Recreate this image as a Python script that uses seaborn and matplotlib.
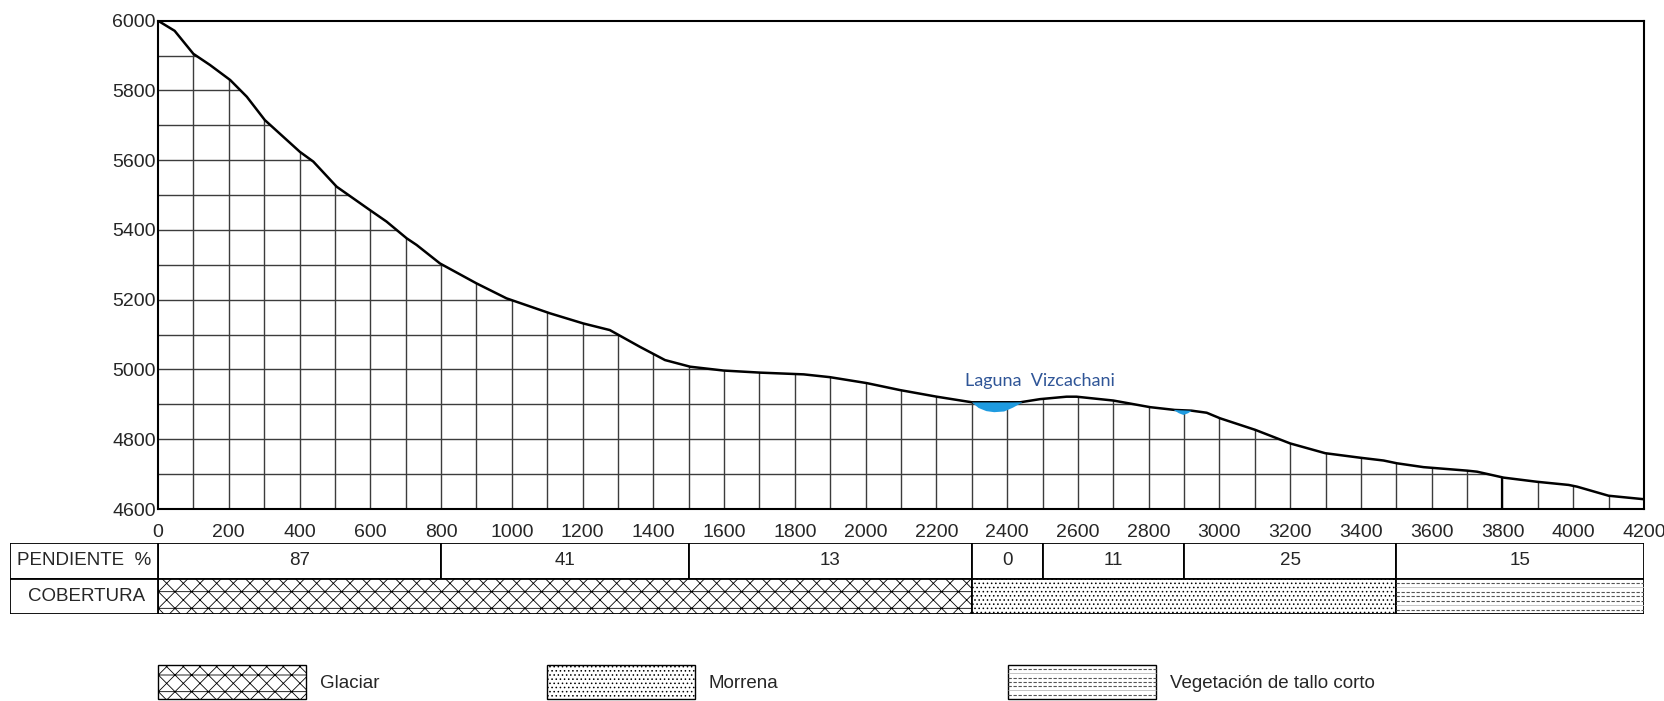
import numpy as np
import matplotlib
matplotlib.use("Agg")
import matplotlib.pyplot as plt
from matplotlib.patches import Rectangle
import seaborn as sns

# perfil longitudinal: distancia (m) y cota (msnm)
distancia = [0, 47, 100, 147, 204, 251, 302, 401, 439, 505, 599, 646, 703, 731, 797,
             900, 985, 1108, 1202, 1277, 1362, 1433, 1504, 1598, 1702, 1825, 1899,
             2003, 2097, 2201, 2300, 2437, 2493, 2568, 2596, 2700, 2804, 2874, 2921,
             2964, 3002, 3101, 3200, 3299, 3398, 3464, 3502, 3577, 3700, 3728, 3803,
             3898, 3987, 4011, 4100, 4200]
cota = [6000, 5971, 5905, 5873, 5830, 5782, 5715, 5624, 5596, 5524, 5457, 5424, 5376,
        5357, 5304, 5247, 5204, 5161, 5132, 5113, 5065, 5027, 5008, 4997, 4991, 4986,
        4978, 4961, 4941, 4922, 4906, 4906, 4915, 4922, 4922, 4911, 4892, 4884, 4882,
        4876, 4860, 4827, 4788, 4760, 4747, 4739, 4731, 4720, 4710, 4707, 4690, 4678,
        4669, 4664, 4638, 4628]

# lagunas (fondo)
laguna1_x = [2300, 2318, 2340, 2362, 2390, 2415, 2440]
laguna1_fondo = [4906, 4891, 4882, 4879, 4881, 4892, 4906]
laguna2_x = [2868, 2884, 2897, 2910, 2922]
laguna2_fondo = [4886, 4876, 4871, 4876, 4884]

x_ticks = list(range(0, 4201, 200))
y_ticks = list(range(4600, 6001, 200))

# tabla inferior
pend_inicio = [0, 800, 1500, 2300, 2500, 2900, 3500]
pend_fin = [800, 1500, 2300, 2500, 2900, 3500, 4200]
pend_valor = ["87", "41", "13", "0", "11", "25", "15"]

cob_inicio = [0, 2300, 3500]
cob_fin = [2300, 3500, 4200]
cob_nombre = ["Glaciar", "Morrena", "Vegetación de tallo corto"]

sns.set_style("white")
plt.rcParams["font.family"] = ["Liberation Sans", "DejaVu Sans"]
plt.rcParams["hatch.linewidth"] = 0.6

W, H = 1665, 701
fig = plt.figure(figsize=(W / 100, H / 100), dpi=100)

ax = fig.add_axes([158 / W, 1 - 509 / H, 1486 / W, 488.3 / H])
ax.set_xlim(0, 4200)
ax.set_ylim(4600, 6000)

# cuadricula solo bajo el perfil
poly = ax.fill_between(distancia, cota, 4600, facecolor="none", edgecolor="none")
clip = poly.get_paths()[0]
vl = ax.vlines(np.arange(100, 4200, 100), 4600, 6000, colors="#3c3c3c", lw=1.0)
vl.set_clip_path(clip, ax.transData)
hl = ax.hlines(np.arange(4700, 6000, 100), 0, 4200, colors="#3c3c3c", lw=1.0)
hl.set_clip_path(clip, ax.transData)
v38 = ax.vlines([3800], 4600, 6000, colors="black", lw=1.6)
v38.set_clip_path(clip, ax.transData)

sns.lineplot(x=distancia, y=cota, color="black", lw=1.8, ax=ax, zorder=3)

# lagunas
for lx, lf in [(laguna1_x, laguna1_fondo), (laguna2_x, laguna2_fondo)]:
    top = np.interp(lx, distancia, cota)
    ax.fill_between(lx, lf, top + 1, color="#1f9be0", lw=0, zorder=4)
ax.text(2281, 4967, "Laguna  Vizcachani", color="#2f5597", fontsize=13,
        family=["Lato", "DejaVu Sans"], ha="left", va="center")

ax.set_xticks(x_ticks)
ax.set_yticks(y_ticks)
ax.tick_params(axis="x", length=0, pad=11, labelsize=14)
ax.tick_params(axis="y", length=0, pad=1.5, labelsize=14)
ax.set_xlabel("")
ax.set_ylabel("")
for s in ax.spines.values():
    s.set_visible(True)
    s.set_color("black")
    s.set_linewidth(1.5)


def vegetacion(a, x0, x1, y0, y1):
    a.hlines([y0 + f * (y1 - y0) for f in (0.12, 0.38, 0.5, 0.62, 0.88)], x0, x1,
             colors="#555555", lw=0.8, linestyles=(0, (3, 1.5)))
    a.hlines([y0 + f * (y1 - y0) for f in (0.25, 0.75)], x0, x1,
             colors="#bbbbbb", lw=0.6)


# tabla
x_izq = -148 / (1486 / 4200)
axt = fig.add_axes([10 / W, 1 - 614 / H, 1634 / W, 71 / H])
axt.set_xlim(x_izq, 4200)
axt.set_ylim(0, 2)
axt.axis("off")

anchos = np.subtract(pend_fin, pend_inicio)
axt.barh(1.5, anchos, left=pend_inicio, height=1, color="white",
         edgecolor="black", lw=1.3)
for i, v in enumerate(pend_valor):
    axt.text((pend_inicio[i] + pend_fin[i]) / 2, 1.5, v, ha="center", va="center",
             fontsize=13.5)

cob = axt.barh(0.5, np.subtract(cob_fin, cob_inicio), left=cob_inicio, height=1,
               color="white", edgecolor="black", lw=1.3)
cob[0].set_hatch("xx-")
cob[1].set_hatch("....")
vegetacion(axt, cob_inicio[2], cob_fin[2], 0.0, 1.0)

axt.barh([1.5, 0.5], -x_izq, left=x_izq, height=1, color="white",
         edgecolor="black", lw=1.3)
axt.text(x_izq + 20, 1.5, "PENDIENTE  %", ha="left", va="center", fontsize=13.5)
axt.text(-203, 0.5, "COBERTURA", ha="center", va="center", fontsize=13.5)

# leyenda
axl = fig.add_axes([0, 0, 1, 61 / H])
axl.set_xlim(0, W)
axl.set_ylim(701, 640)
axl.axis("off")
ley_x = [158, 547, 1008]
for i, nombre in enumerate(cob_nombre):
    r = Rectangle((ley_x[i], 665), 148, 34, facecolor="white", edgecolor="black", lw=1.0)
    if i == 0:
        r.set_hatch("xx-")
    elif i == 1:
        r.set_hatch("....")
    axl.add_patch(r)
    if i == 2:
        vegetacion(axl, ley_x[i], ley_x[i] + 148, 665, 699)
    axl.text(ley_x[i] + 162, 684, nombre, ha="left", va="center", fontsize=13.5)

fig.savefig("out.png", dpi=100)
